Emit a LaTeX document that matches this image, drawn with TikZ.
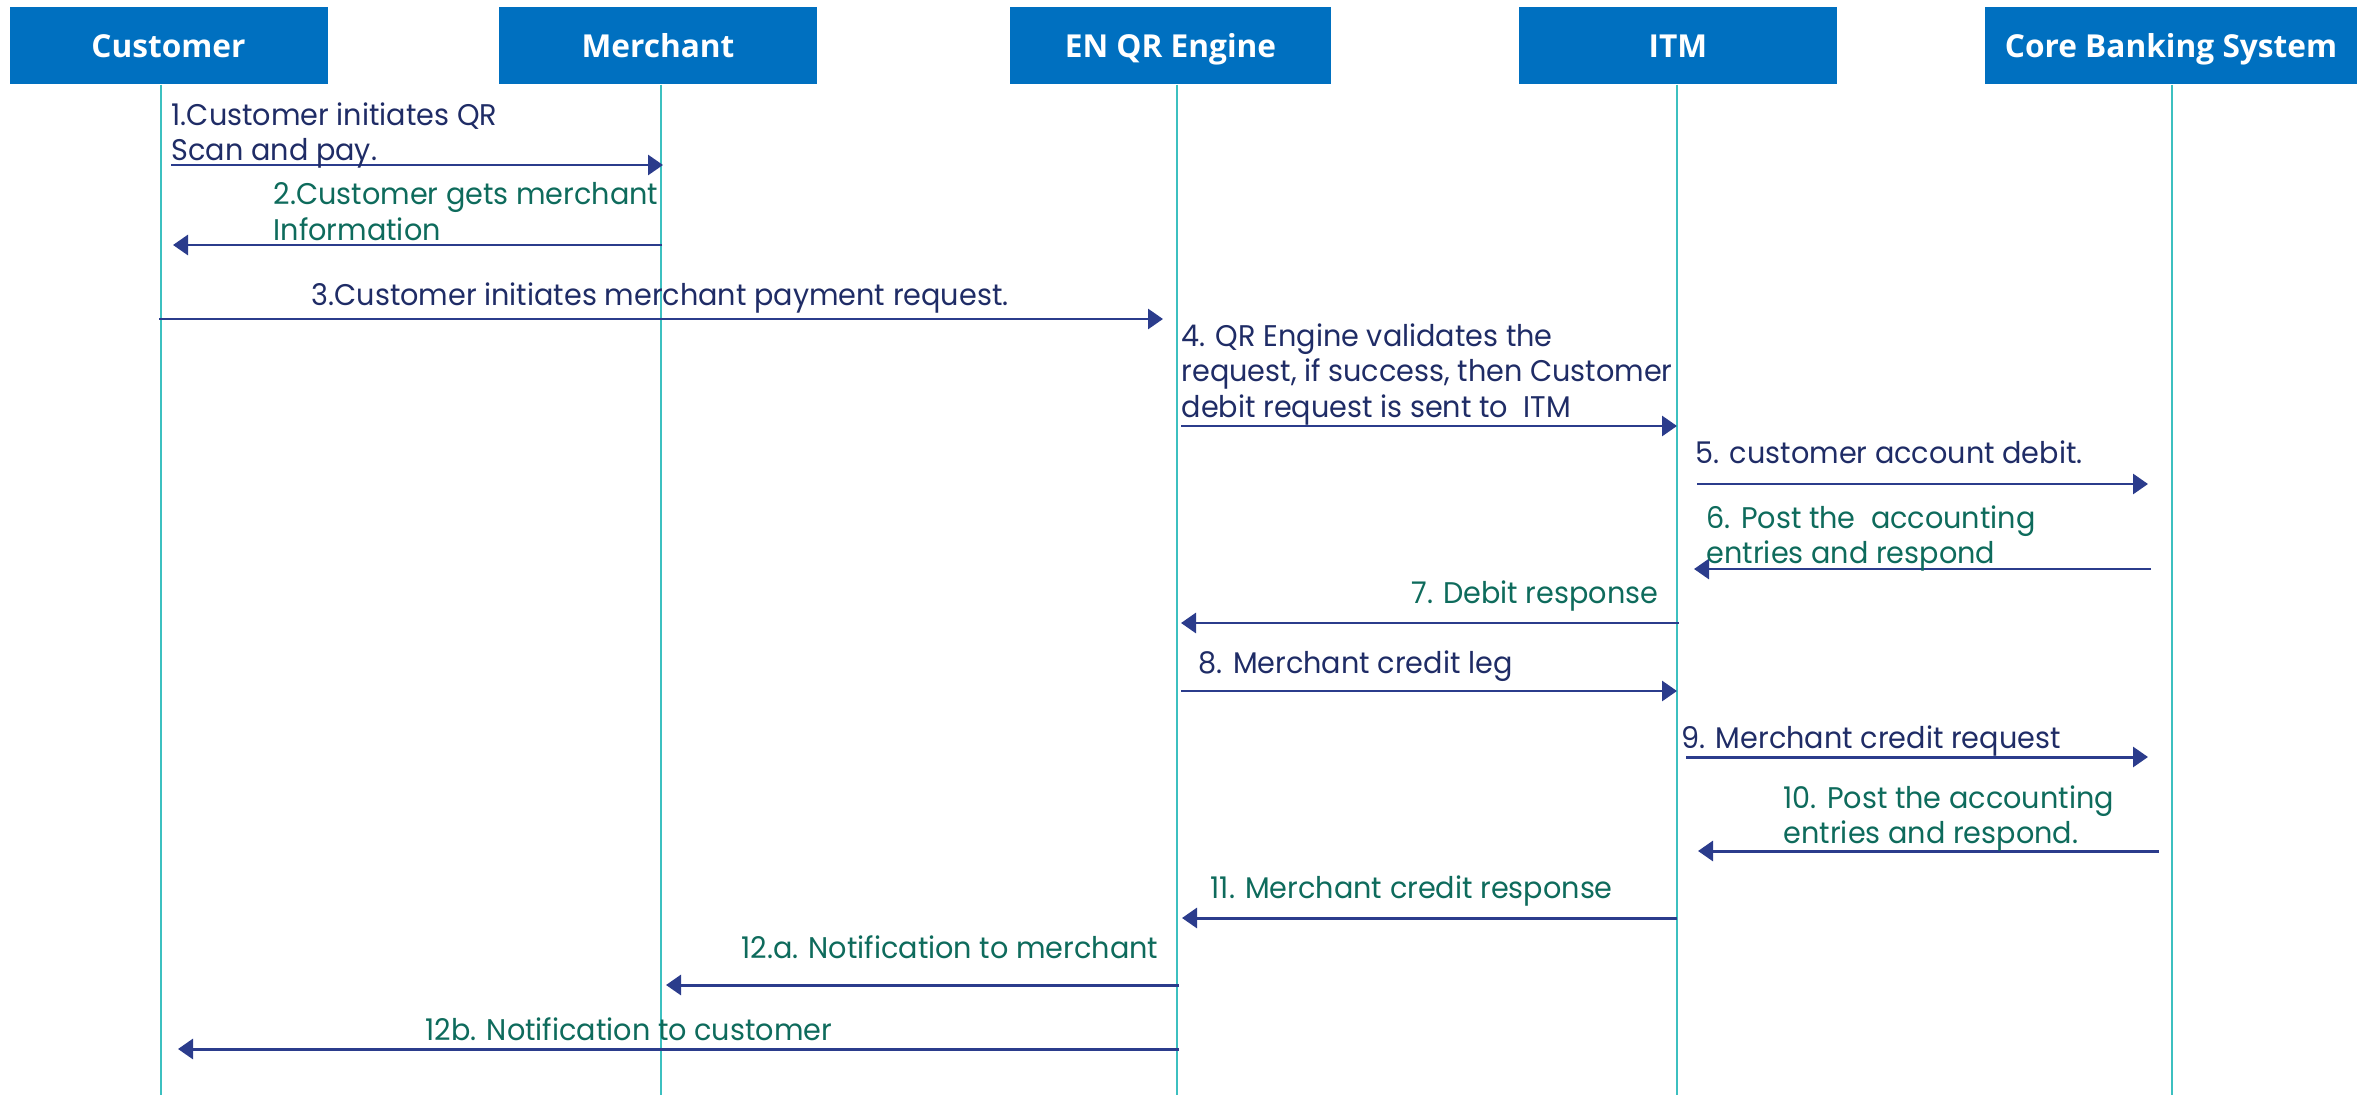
\documentclass[tikz,border=0pt]{standalone}
\usepackage{fontspec}
\setmainfont{Poppins}[FakeStretch=0.96]
\newfontfamily\headfont{Open Sans}
\usetikzlibrary{arrows.meta}

\definecolor{hdblue}{HTML}{0070C0}
\definecolor{arrcol}{HTML}{2B3C8C}
\definecolor{lblcol}{HTML}{1F2C66}
\definecolor{grncol}{HTML}{0E6B5C}
\definecolor{lifecol}{HTML}{3CC0C0}

\begin{document}
\begin{tikzpicture}[x=1cm,y=1cm,
	head/.style={fill=hdblue, text=white, minimum width=3.18cm, minimum height=0.77cm, inner sep=0, text height=6.6pt, text depth=0pt, font=\headfont\bfseries\fontsize{9}{11}\selectfont},
	life/.style={draw=lifecol, line width=0.45pt},
	msg/.style={draw=arrcol, line width=0.85pt, -{Triangle[length=1.5mm,width=2mm]}},
	lblue/.style={text=lblcol, font=\fontsize{8.5}{10.1}\selectfont, align=left, inner sep=0, anchor=north west},
	lgreen/.style={lblue, text=grncol}]
			\useasboundingbox (0,0) rectangle (23.64,-11);
			
			% participants
			\node[head] (cust) at (1.685,-0.455) {Customer};
			\node[head] (merch) at (6.58,-0.455) {Merchant};
			\node[head, minimum width=3.21cm] (qr) at (11.705,-0.455) {EN QR Engine};
			\node[head] (itm) at (16.78,-0.455) {ITM};
			\node[head, minimum width=3.72cm] (cbs) at (21.71,-0.455) {Core Banking System};
			
			% lifelines
			\foreach \n/\x in {cust/1.61, merch/6.61, qr/11.77, itm/16.77, cbs/21.72}{
				\coordinate (\n-end) at (\x,-10.95);
				\draw[life] (\n.south -| \n-end) -- (\n-end);
			}
			
			% messages
			\foreach \i/\xa/\xb/\y in {1/1.71/6.63/1.65, 2/6.62/1.73/2.45, 3/1.59/11.63/3.19,
				4/11.81/16.77/4.26, 5/16.97/21.48/4.84, 6/21.51/16.94/5.69, 7/16.79/11.81/6.23,
				8/11.81/16.77/6.91, 9/16.86/21.48/7.57, 10/21.59/16.98/8.51, 11/16.77/11.82/9.18,
				12a/11.79/6.66/9.85, 12b/11.79/1.78/10.49}{
				\coordinate (m\i-a) at (\xa,-\y);
				\coordinate (m\i-b) at (\xb,-\y);
				\draw[msg] (m\i-a) -- (m\i-b);
			}
			
			% labels
			\node[lblue] (l1) at (1.71,-1.02) {1.Customer initiates QR\\Scan and pay.};
			\node[lgreen] (l2) at (2.73,-1.82) {2.Customer gets merchant\\Information};
			\node[lblue] (l3) at (3.11,-2.82) {3.Customer initiates merchant payment request.};
			\node[lblue] (l4) at (11.81,-3.23) {4. QR Engine validates the\\request, if success, then Customer\\debit request is sent to\ \ ITM};
			\node[lblue] (l5) at (16.95,-4.40) {5. customer account debit.};
			\node[lgreen] (l6) at (17.06,-5.05) {6. Post the\ \ accounting\\entries and respond};
			\node[lgreen, anchor=north east] (l7) at (16.59,-5.80) {7. Debit response};
			\node[lblue] (l8) at (11.98,-6.50) {8. Merchant credit leg};
			\node[lblue] (l9) at (16.81,-7.25) {9. Merchant credit request};
			\node[lgreen] (l10) at (17.83,-7.85) {10. Post the accounting\\entries and respond.};
			\node[lgreen] (l11) at (12.10,-8.75) {11. Merchant credit response};
			\node[lgreen, anchor=north east] (l12a) at (11.59,-9.35) {12.a. Notification to merchant};
			\node[lgreen] (l12b) at (4.25,-10.17) {12b. Notification to customer};
		\end{tikzpicture}
\end{document}
